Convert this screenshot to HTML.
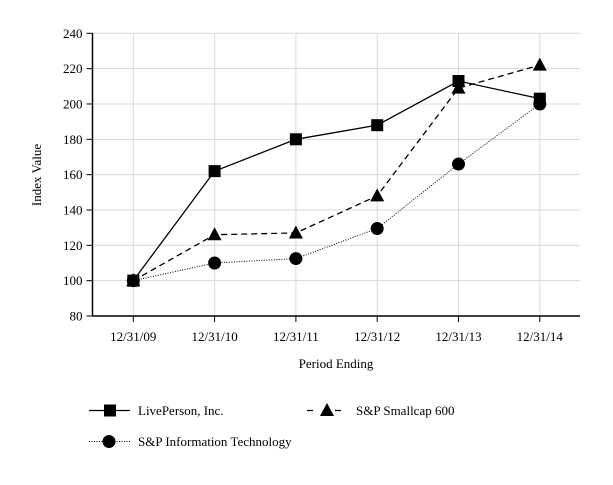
<!DOCTYPE html>
<html><head><meta charset="utf-8"><style>
body{margin:0;background:#fff;}
svg, svg text{font-family:"Liberation Serif","Times New Roman","DejaVu Serif",serif;fill:#000;}
</style></head><body>
<svg id="chart" width="613" height="480" font-family="Liberation Serif, serif" xmlns="http://www.w3.org/2000/svg">
<g id="grid"></g>
<g id="axes"></g>
<g id="series"></g>
<text x="41" y="175" font-size="13" text-anchor="middle" transform="rotate(-90 41 175)">Index Value</text>
<text x="336" y="368" font-size="13" text-anchor="middle">Period Ending</text>
<g>
<g>
<line x1="89" y1="410.5" x2="130" y2="410.5" stroke="#000" stroke-width="1.3"/>
<rect x="104" y="404.5" width="12" height="12" fill="#000"/>
<text x="138" y="415" font-size="13">LivePerson, Inc.</text></g>
<g>
<line x1="307" y1="410.5" x2="348" y2="410.5" stroke="#000" stroke-width="1.3" stroke-dasharray="6,22"/>
<path d="M327,403 L334,416 L320,416 Z" fill="#000"/>
<text x="356" y="415" font-size="13">S&amp;P Smallcap 600</text></g>
<g>
<line x1="89" y1="441.5" x2="130" y2="441.5" stroke="#000" stroke-width="1" stroke-dasharray="1,1.5"/>
<circle cx="109" cy="441.5" r="6.5" fill="#000"/>
<text x="138" y="446" font-size="13">S&amp;P Information Technology</text></g>
</g>
</svg>
<script>
const categories=["12/31/09","12/31/10","12/31/11","12/31/12","12/31/13","12/31/14"];
const livePerson=[100,162,180,188,213,203];
const spSmallcap=[100,126,127,148,209,222];
const spIT=[100,110,112.5,129.5,166,200];
const yTicks=[80,100,120,140,160,180,200,220,240];
const NS="http://www.w3.org/2000/svg";
const L=92.5,R=580,T=33.3,B=316;
const xs=i=>133.3+i*81.3;
const ys=v=>B-(v-80)/160*(B-T);
function mk(tag,attrs,parent){const e=document.createElementNS(NS,tag);for(const k in attrs)e.setAttribute(k,attrs[k]);parent.appendChild(e);return e;}
const grid=document.getElementById('grid'),axes=document.getElementById('axes'),ser=document.getElementById('series');
yTicks.forEach(v=>{
 const y=ys(v);
 const g=mk('line',{x1:L,x2:R,y1:y,y2:y,stroke:'#d8d8d8','stroke-width':1},grid);
 
 
 const t=mk('line',{x1:L-6,x2:L,y1:y,y2:y,stroke:'#000','stroke-width':1},axes);
 
 
 const tx=mk('text',{x:L-10,y:y+4.5,'font-size':13,'text-anchor':'end'},axes);
 tx.textContent=v;
 
 
});
categories.forEach((c,i)=>{
 const x=xs(i);
 const g=mk('line',{x1:x,x2:x,y1:T,y2:B,stroke:'#d8d8d8','stroke-width':1},grid);
 
 
 const t=mk('line',{x1:x,x2:x,y1:B,y2:B+6,stroke:'#000','stroke-width':1},axes);
 
 
 const tx=mk('text',{x:x,y:B+25,'font-size':13,'text-anchor':'middle'},axes);
 tx.textContent=c;
 
 
});
const ya=mk('line',{x1:L,x2:L,y1:T,y2:B,stroke:'#000','stroke-width':1.5},axes);


const xa=mk('line',{x1:L,x2:R,y1:B,y2:B,stroke:'#000','stroke-width':1.5},axes);


function drawSeries(vals,dash,marker,name){
 const pts=vals.map((v,i)=>xs(i)+','+ys(v)).join(' ');
 const pl=mk('polyline',{points:pts,fill:'none',stroke:'#000','stroke-width':dash==='dot'?1:1.3,'stroke-dasharray':dash==='dot'?'1,1.5':(dash==='dash'?'6,4':'none')},ser);
 
 
 vals.forEach((v,i)=>{
  const x=xs(i),y=ys(v);let m;
  if(marker==='square')m=mk('rect',{x:x-6,y:y-6,width:12,height:12,fill:'#000'},ser);
  else if(marker==='tri')m=mk('path',{d:`M${x},${y-7.5} L${x+7},${y+5.5} L${x-7},${y+5.5} Z`,fill:'#000'},ser);
  else m=mk('circle',{cx:x,cy:y,r:6.5,fill:'#000'},ser);
  
  
 });
}
drawSeries(spIT,'dot','circle','sp-it');
drawSeries(spSmallcap,'dash','tri','sp-smallcap');
drawSeries(livePerson,'solid','square','liveperson');
</script>
</body></html>
